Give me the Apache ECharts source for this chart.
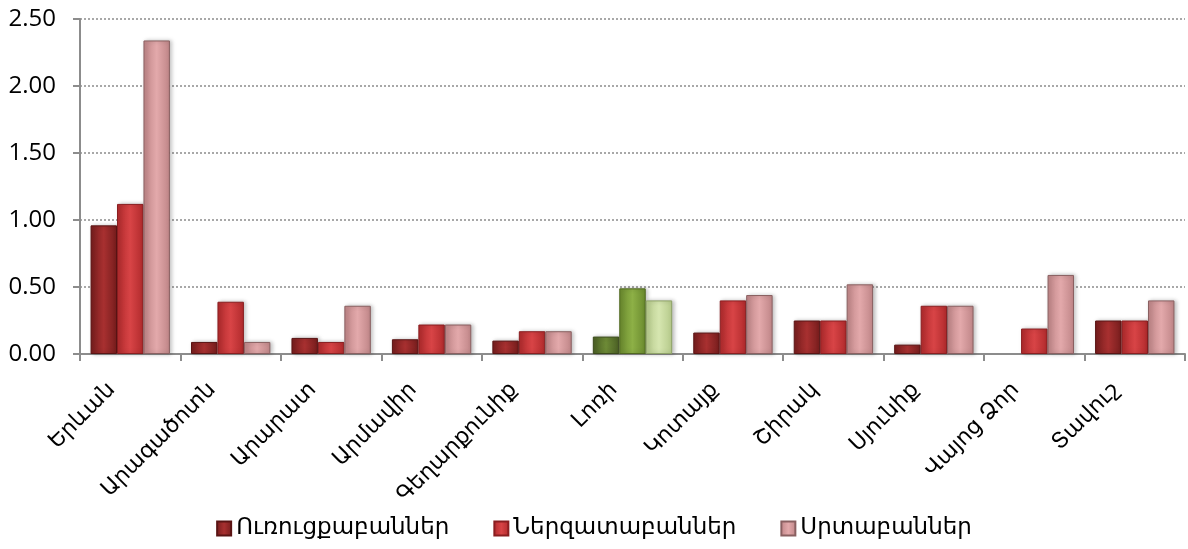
<!DOCTYPE html>
<html>
<head>
<meta charset="utf-8">
<script src="https://cdn.jsdelivr.net/npm/echarts@6/dist/echarts.min.js"></script>
<style>
  html, body { margin: 0; padding: 0; background: #fff; }
  #chart { width: 1188px; height: 549px; }
</style>
</head>
<body>
<div id="chart"></div>
<script>
// categories (marzer)
const regions = ['Երևան', 'Արագածոտն', 'Արարատ', 'Արմավիր', 'Գեղարքունիք', 'Լոռի', 'Կոտայք', 'Շիրակ', 'Սյունիք', 'Վայոց Ձոր', 'Տավուշ'];
const seriesNames = ['Ուռուցքաբաններ', 'Ներզատաբաններ', 'Սրտաբաններ'];

const oncologists   = [0.96, 0.09, 0.12, 0.11, 0.10, 0.13, 0.16, 0.25, 0.07, 0.00, 0.25];
const endocrinologists = [1.12, 0.39, 0.09, 0.22, 0.17, 0.49, 0.40, 0.25, 0.36, 0.19, 0.25];
const cardiologists = [2.34, 0.09, 0.36, 0.22, 0.17, 0.40, 0.44, 0.52, 0.36, 0.59, 0.40];

const highlightIndex = 5; // Լոռի drawn in green

function grad(edge, mid) {
  return new echarts.graphic.LinearGradient(0, 0, 1, 0, [
    { offset: 0, color: edge },
    { offset: 0.5, color: mid },
    { offset: 1, color: edge }
  ]);
}

// [edge, middle, border] for each series, normal and highlighted
const palette = [
  ['#761d1d', '#a83030', '#5a1414'],
  ['#b02a2c', '#d84446', '#8a1e20'],
  ['#bf8587', '#e3a9ab', '#8a6061']
];
const greenPalette = [
  ['#4a5e24', '#6d8a36', '#3a4a1a'],
  ['#6a8a2e', '#8db046', '#50681f'],
  ['#b5c98a', '#d6e6b0', '#8ea366']
];

const values = [oncologists, endocrinologists, cardiologists];

const chart = echarts.init(document.getElementById('chart'));

const series = values.map((vals, s) => ({
  name: seriesNames[s],
  type: 'bar',
  barGap: '0%',
  barCategoryGap: '21%',
  itemStyle: {
    color: grad(palette[s][0], palette[s][1]),
    borderColor: palette[s][2],
    borderWidth: 1,
    shadowColor: 'rgba(0,0,0,0.25)',
    shadowBlur: 4,
    shadowOffsetX: 2
  },
  data: vals.map((v, i) => {
    if (i === highlightIndex) {
      return {
        value: v,
        itemStyle: {
          color: grad(greenPalette[s][0], greenPalette[s][1]),
          borderColor: greenPalette[s][2]
        }
      };
    }
    if (v === 0) {
      // empty bar: no border line on the axis
      return { value: v, itemStyle: { borderWidth: 0, shadowBlur: 0, shadowOffsetX: 0 } };
    }
    return v;
  })
}));

const option = {
  animation: false,
  grid: { left: 80, right: 3, top: 19, bottom: 195 },
  legend: {
    data: seriesNames,
    bottom: 4,
    left: 'center',
    itemWidth: 14,
    itemHeight: 14,
    itemGap: 44,
    icon: 'rect',
    textStyle: { fontFamily: 'DejaVu Sans', fontSize: 23, color: '#000' }
  },
  xAxis: {
    type: 'category',
    data: regions,
    axisLine: { lineStyle: { color: '#8c8c8c', width: 2 } },
    axisTick: { show: true, length: 7, lineStyle: { color: '#8c8c8c', width: 2 } },
    axisLabel: {
      rotate: 45,
      interval: 0,
      margin: 14,
      padding: [0, 26, 0, 0],
      fontFamily: 'DejaVu Sans',
      fontSize: 22,
      color: '#000'
    }
  },
  yAxis: {
    type: 'value',
    min: 0,
    max: 2.5,
    interval: 0.5,
    axisLine: { show: true, lineStyle: { color: '#8c8c8c', width: 2 } },
    axisTick: { show: true, length: 7, lineStyle: { color: '#8c8c8c', width: 2 } },
    axisLabel: {
      formatter: v => v.toFixed(2),
      fontFamily: 'Open Sans',
      fontSize: 24,
      color: '#000',
      margin: 24
    },
    splitLine: { lineStyle: { color: '#8c8c8c', type: [2, 2], width: 1.5 } }
  },
  series: series
};

chart.setOption(option);
</script>
</body>
</html>
